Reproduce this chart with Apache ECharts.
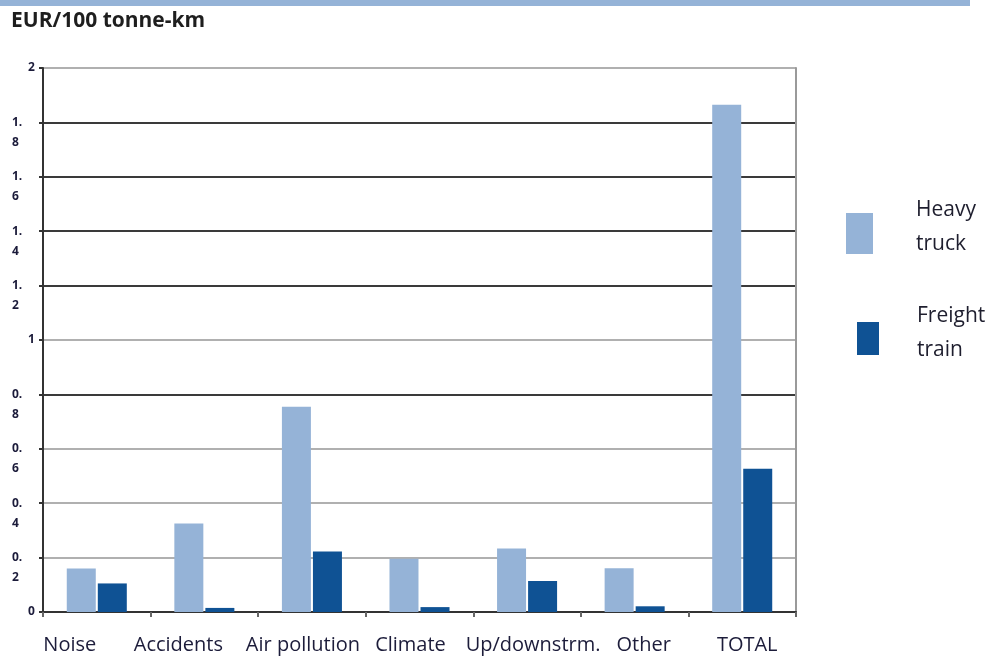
<!DOCTYPE html>
<html>
<head>
<meta charset="utf-8">
<script src="https://cdn.jsdelivr.net/npm/echarts@6/dist/echarts.min.js"></script>
<style>
  html, body { margin: 0; padding: 0; background: #fff; }
  #chart { width: 990px; height: 656px; }
</style>
</head>
<body>
<div id="chart"></div>
<script>
// External costs of freight transport, EUR per 100 tonne-km
const categories = ['Noise', 'Accidents', 'Air pollution', 'Climate', 'Up/downstrm.', 'Other', 'TOTAL'];
const heavyTruck = [0.16, 0.325, 0.755, 0.196, 0.233, 0.161, 1.865];
const freightTrain = [0.105, 0.015, 0.222, 0.018, 0.114, 0.021, 0.527];
const seriesNames = ['Heavy truck', 'Freight train'];

// horizontal nudges for category labels (px, negative = left)
const labelNudge = [-27, -26, -9, -9, 6, 9, 5];
// grid line colours from 0 to 2 (step 0.2)
const DARK = '#3a3a3a', GREY = '#b0b0b0';
const gridColors = [DARK, GREY, GREY, GREY, DARK, GREY, DARK, DARK, DARK, DARK, GREY];

const chart = echarts.init(document.getElementById('chart'));

const catData = categories.map((c, i) => {
  const n = labelNudge[i];
  return {
    value: c,
    textStyle: { padding: n < 0 ? [0, -2 * n, 0, 0] : [0, 0, 0, 2 * n] }
  };
});

// two-line legend text, with a short spacer line so the text sits a little above the swatch
const legendText = (spacer) =>
  (n) => '{a|' + n.split(' ')[0] + '}\n{a|' + n.split(' ')[1] + '}\n{' + spacer + '| }';
const legendRich = {
  a: { fontFamily: 'Open Sans', fontSize: 21, lineHeight: 34, color: '#1e1e2e' },
  b14: { fontSize: 10, lineHeight: 12 },
  b12: { fontSize: 10, lineHeight: 10 }
};

chart.setOption({
  animation: false,
  backgroundColor: '#fff',
  graphic: [{
    type: 'rect',
    shape: { x: 0, y: 0, width: 970, height: 6 },
    style: { fill: '#95b3d7' }
  }],
  title: {
    text: 'EUR/100 tonne-km',
    left: 6, top: 6,
    textStyle: { fontFamily: 'Open Sans', fontWeight: 'bold', fontSize: 21, color: '#1e1e1e' }
  },
  legend: [{
    data: [seriesNames[0]],
    left: 846, top: 200,
    padding: 0,
    orient: 'vertical',
    itemWidth: 27, itemHeight: 41,
    icon: 'rect',
    formatter: legendText('b14'),
    textStyle: { padding: [0, 0, 0, 38], rich: legendRich }
  }, {
    data: [seriesNames[1]],
    left: 857, top: 306,
    padding: 0,
    orient: 'vertical',
    itemWidth: 22, itemHeight: 33,
    icon: 'rect',
    formatter: legendText('b12'),
    textStyle: { padding: [0, 0, 0, 33], rich: legendRich }
  }],
  grid: { left: 43, right: 194, top: 68, bottom: 44, containLabel: false },
  xAxis: {
    type: 'category',
    data: catData,
    axisLine: { lineStyle: { color: '#333', width: 2 } },
    axisTick: { show: true, length: 5, lineStyle: { color: '#666', width: 2 } },
    axisLabel: { interval: 0, margin: 23, fontFamily: 'Open Sans', fontSize: 20, color: '#1c1c3a' }
  },
  yAxis: [{
    type: 'value',
    min: 0, max: 2, interval: 0.2,
    axisLine: { show: true, lineStyle: { color: '#333', width: 2 } },
    axisTick: { show: true, length: 4, lineStyle: { color: '#333', width: 2 } },
    splitLine: { show: true, lineStyle: { color: gridColors, width: 2 } },
    axisLabel: {
      margin: 31,
      align: 'left',
      formatter: v => {
        const s = String(+v.toFixed(1));
        if (s.indexOf('.') < 0) return '{s|' + s + '}';
        const p = s.split('.');
        return '{d| }\n{d|' + p[0] + '.}\n{d|' + p[1] + '}';
      },
      rich: {
        s: { fontFamily: 'Open Sans', fontWeight: 'bold', fontSize: 12, color: '#1b1b3a', padding: [0, 0, 0, 16] },
        d: { fontFamily: 'Open Sans', fontWeight: 'bold', fontSize: 12, color: '#1b1b3a', lineHeight: 20 }
      }
    }
  }, {
    type: 'value',
    position: 'right',
    min: 0, max: 2, interval: 0.2,
    axisLine: { show: true, lineStyle: { color: '#9a9a9a', width: 2 } },
    axisTick: { show: false },
    axisLabel: { show: false },
    splitLine: { show: false }
  }],
  series: [{
    name: seriesNames[0],
    type: 'bar',
    data: heavyTruck,
    barWidth: 29,
    barGap: '7%',
    itemStyle: { color: '#95b3d7' }
  }, {
    name: seriesNames[1],
    type: 'bar',
    data: freightTrain,
    barWidth: 29,
    barGap: '7%',
    itemStyle: { color: '#0f5294' }
  }]
});
</script>
</body>
</html>
